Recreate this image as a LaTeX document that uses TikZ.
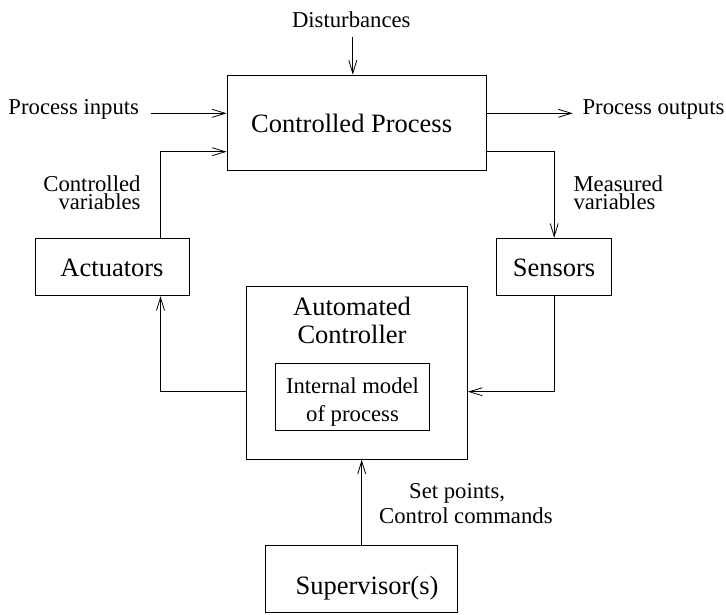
\documentclass[tikz,border=0pt]{standalone}
\usepackage{fontspec}
\setmainfont{Liberation Serif}
\usetikzlibrary{arrows.meta}
\begin{document}
\begin{tikzpicture}[x=1pt,y=-1pt,
  box/.style={draw, line width=0.8pt, inner sep=0pt},
  big/.style={font=\fontsize{26.5}{28.3}\selectfont, inner sep=0pt},
  small/.style={font=\fontsize{22.7}{18.7}\selectfont, inner sep=0pt},
  arr/.style={draw, line width=0.8pt, -{Straight Barb[length=13pt,width=8pt,line width=0.8pt]}},
  ln/.style={draw, line width=0.8pt}]
\useasboundingbox (0,0) rectangle (726,614);

% boxes
\node[box, minimum width=259.6pt, minimum height=95.7pt] (cp) at (356.8,122.9) {};
\node[big, anchor=base] (cptxt) at (351.6,132.7) {Controlled Process};
\node[box, minimum width=153.6pt, minimum height=57.6pt] (act) at (112.2,267) {};
\node[big, anchor=base] (acttxt) at (112,276.5) {Actuators};
\node[box, minimum width=115pt, minimum height=57.6pt] (sen) at (554.2,267) {};
\node[big, anchor=base] (sentxt) at (554,276.5) {Sensors};
\node[box, minimum width=221.1pt, minimum height=172.6pt] (ctl) at (357.05,373) {};
\node[big, align=center, anchor=north] (ctltxt) at (352,296.9) {Automated\\Controller};
\node[box, minimum width=154pt, minimum height=67pt] (im) at (352.5,396.5) {};
\node[small, font=\fontsize{22.7}{28}\selectfont, align=center, anchor=north] (imtxt) at (352.5,377.2) {Internal model\\of process};
\node[box, minimum width=192pt, minimum height=67pt] (sup) at (361.7,579.2) {};
\node[big, anchor=base] (suptxt) at (367,594.3) {Supervisor(s)};

% labels
\node[small, anchor=base] (dist) at (351.3,27.3) {Disturbances};
\node[small, anchor=base west] (pin) at (8.3,114) {Process inputs};
\node[small, anchor=base west] (pout) at (582.4,114) {Process outputs};
\node[small, align=right, anchor=north east] (cv) at (140.7,175.2) {Controlled\\variables};
\node[small, align=left, anchor=north west] (mv) at (573.3,175.2) {Measured\\variables};
\node[small, font=\fontsize{22.7}{24.3}\selectfont, align=left, anchor=north west] (sp) at (379,483.5) {\hspace*{30pt}Set points,\\Control commands};

% connector coordinates
\coordinate (d0) at (352.8,36.7);
\coordinate (pi0) at (150.7,113.3);
\coordinate (po1) at (572.7,113.3);
\coordinate (a1) at (160.5,151.7);
\coordinate (c1) at (0,391.7);

% connectors
\draw[arr] (d0) -- (cp.north -| d0);
\draw[arr] (pi0) -- (cp.west |- pi0);
\draw[arr] (cp.east |- pi0) -- (po1);
\draw[arr] (act.north -| a1) |- (cp.west |- a1);
\draw[arr] (cp.east |- a1) -| (sen.north);
\draw[arr] (sen.south) |- (ctl.east |- c1);
\draw[arr] (ctl.west |- c1) -| (act.south -| a1);
\draw[arr] (sup.north) -- (ctl.south -| sup.north);
\end{tikzpicture}
\end{document}
